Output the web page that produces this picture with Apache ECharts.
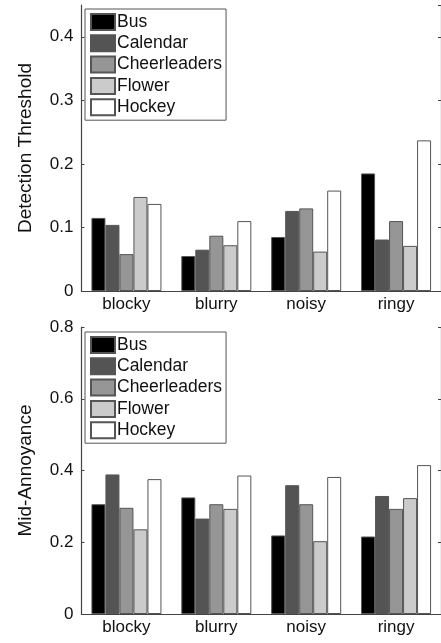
<!DOCTYPE html>
<html><head><meta charset="utf-8">
<script src="https://cdn.jsdelivr.net/npm/echarts@6/dist/echarts.min.js"></script>
<style>html,body{margin:0;padding:0;background:#fff}#c{width:441px;height:643px}</style>
</head><body><div id="c"></div>
<script>
const categories = ['blocky','blurry','noisy','ringy'];
const seriesNames = ['Bus','Calendar','Cheerleaders','Flower','Hockey'];
const seriesColors = ['#000000','#545454','#969696','#cbcbcb','#ffffff'];
// Detection Threshold (top)
const detBus = [0.115, 0.055, 0.085, 0.185];
const detCalendar = [0.104, 0.065, 0.126, 0.081];
const detCheerleaders = [0.058, 0.087, 0.130, 0.110];
const detFlower = [0.148, 0.072, 0.062, 0.071];
const detHockey = [0.137, 0.110, 0.158, 0.237];
// Mid-Annoyance (bottom)
const midBus = [0.306, 0.325, 0.219, 0.216];
const midCalendar = [0.389, 0.266, 0.359, 0.329];
const midCheerleaders = [0.296, 0.306, 0.306, 0.293];
const midFlower = [0.236, 0.293, 0.203, 0.323];
const midHockey = [0.376, 0.386, 0.382, 0.415];
const topTicks = {min:0, max:0.45, interval:0.1};
const botTicks = {min:0, max:0.8, interval:0.2};

const detData = [detBus, detCalendar, detCheerleaders, detFlower, detHockey];
const midData = [midBus, midCalendar, midCheerleaders, midFlower, midHockey];
const FONT = "'Liberation Sans', Arial, sans-serif";
const AX = '#444';

function xAxes(gi){
  return [
    {type:'category', data:categories, gridIndex:gi, position:'bottom',
     axisLine:{lineStyle:{color:AX,width:1.2}},
     axisTick:{inside:true, alignWithLabel:true, length:3, lineStyle:{color:AX}},
     axisLabel:{fontFamily:FONT, fontSize:17, color:'#111', margin:5}},
    {type:'category', data:categories, gridIndex:gi, position:'top',
     axisLine:{lineStyle:{color:AX,width:1.2}},
     axisTick:{inside:true, alignWithLabel:true, length:3, lineStyle:{color:AX}},
     axisLabel:{show:false}}
  ];
}
function yAxes(gi, t, name){
  return [
    {type:'value', gridIndex:gi, min:t.min, max:t.max, interval:t.interval, position:'left',
     name:name, nameLocation:'middle', nameRotate:90, nameGap:46,
     nameTextStyle:{fontFamily:FONT, fontSize:19, color:'#111'},
     splitLine:{show:false},
     axisLine:{show:true, lineStyle:{color:AX,width:1.2}},
     axisTick:{show:true, inside:true, length:3, lineStyle:{color:AX}},
     axisLabel:{fontFamily:FONT, fontSize:17, color:'#111', margin:8, showMaxLabel: t.max===0.8,
       formatter: v => (v===0 ? '0' : String(+v.toFixed(2)))}},
    {type:'value', gridIndex:gi, min:t.min, max:t.max, interval:t.interval, position:'right',
     splitLine:{show:false},
     axisLine:{show:true, lineStyle:{color:AX,width:1.2}},
     axisTick:{show:true, inside:true, length:3, lineStyle:{color:AX}},
     axisLabel:{show:false}}
  ];
}
function barSeries(data, xi, yi){
  return seriesNames.map((n,i)=>({
    type:'bar', name:n, xAxisIndex:xi, yAxisIndex:yi, data:data[i],
    barWidth:14, barGap:'0%',
    itemStyle:{color:seriesColors[i], borderColor:'#555', borderWidth:1},
    emphasis:{disabled:true}
  }));
}
function legend(top){
  return {left:85, top:top, orient:'vertical', data:seriesNames, selectedMode:false,
    itemWidth:24, itemHeight:16, itemGap:3.3, padding:[4,4,4,5],
    borderColor:'#555', borderWidth:1, backgroundColor:'#fff',
    icon:'rect',
    textStyle:{fontFamily:FONT, fontSize:17.5, color:'#111', lineHeight:16, padding:[0,0,0,-3]}};
}
const chart = echarts.init(document.getElementById('c'), null, {renderer:'canvas'});
chart.setOption({
  animation:false,
  grid:[
    {left:81.5, width:361, top:5, height:286},
    {left:81.5, width:361, top:327, height:287}
  ],
  xAxis:[...xAxes(0), ...xAxes(1)],
  yAxis:[...yAxes(0, topTicks, 'Detection Threshold'), ...yAxes(1, botTicks, 'Mid-Annoyance')],
  legend:[legend(9), legend(332)],
  series:[...barSeries(detData,0,0), ...barSeries(midData,2,2)]
});
</script></body></html>
